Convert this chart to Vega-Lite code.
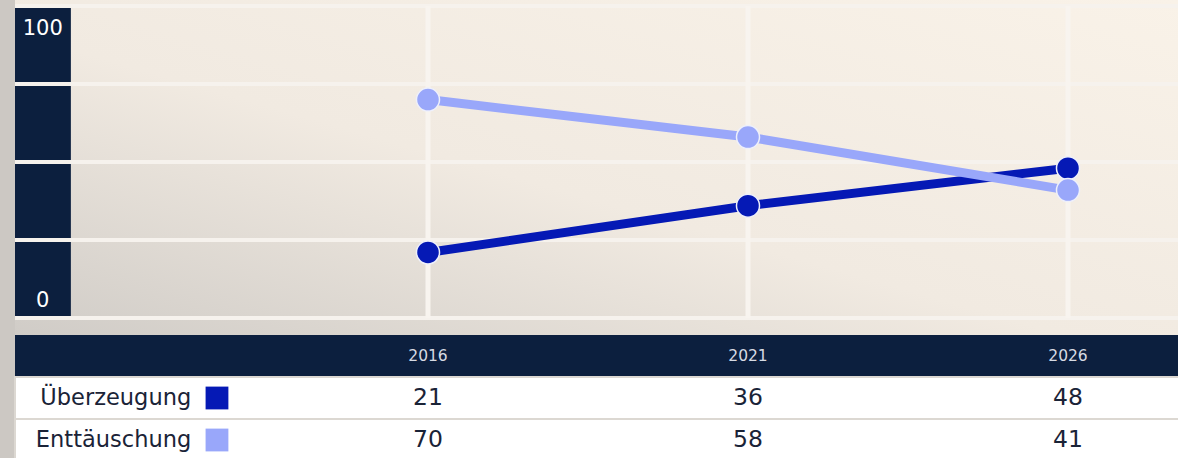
{
  "$schema": "https://vega.github.io/schema/vega-lite/v6.json",
  "background": "#ccc8c3",
  "padding": {"left": 13, "top": 0, "right": 0, "bottom": 0},
  "bounds": "flush",
  "spacing": 0,
  "config": {"view": {"stroke": null}, "font": "DejaVu Sans"},
  "datasets": {
    "series": [
      {"year": 2016, "group": "Überzeugung", "value": 21},
      {"year": 2021, "group": "Überzeugung", "value": 36},
      {"year": 2026, "group": "Überzeugung", "value": 48},
      {"year": 2016, "group": "Enttäuschung", "value": 70},
      {"year": 2021, "group": "Enttäuschung", "value": 58},
      {"year": 2026, "group": "Enttäuschung", "value": 41}
    ],
    "years": [{"year": 2016}, {"year": 2021}, {"year": 2026}],
    "gridy": [{"g": 0}, {"g": 25}, {"g": 50}, {"g": 75}, {"g": 100}],
    "rows": [{"row": "Überzeugung"}, {"row": "Enttäuschung"}],
    "header": [{"row": "header"}]
  },
  "vconcat": [
    {
      "width": 1165,
      "height": 335,
      "view": {
        "fill": {
          "gradient": "linear", "x1": 0, "y1": 1, "x2": 1, "y2": 0,
          "stops": [
            {"offset": 0, "color": "#d0ccc7"},
            {"offset": 0.45, "color": "#f1eae1"},
            {"offset": 1, "color": "#f9f2e8"}
          ]
        }
      },
      "layer": [
        {
          "data": {"name": "header"},
          "mark": {"type": "rect", "color": "#0c1f3e"},
          "encoding": {
            "x": {"datum": 2009.547, "type": "quantitative", "scale": {"domain": [2009.547, 2027.75], "nice": false, "zero": false}, "axis": null},
            "x2": {"datum": 2010.42},
            "y": {"datum": 0, "type": "quantitative", "scale": {"domain": [-5.45, 101.92], "nice": false, "zero": false}, "axis": null},
            "y2": {"datum": 100}
          }
        },
        {
          "data": {"name": "gridy"},
          "mark": {"type": "rule", "color": "#f6f2ed", "strokeWidth": 4},
          "encoding": {
            "y": {"field": "g", "type": "quantitative", "scale": {"domain": [-5.45, 101.92], "nice": false, "zero": false}, "axis": null}
          }
        },
        {
          "data": {"name": "years"},
          "mark": {"type": "rule", "color": "#f8f4ef", "strokeWidth": 5},
          "encoding": {
            "x": {"field": "year", "type": "quantitative", "scale": {"domain": [2009.547, 2027.75], "nice": false, "zero": false}, "axis": null},
            "y": {"datum": 0, "type": "quantitative", "scale": {"domain": [-5.45, 101.92], "nice": false, "zero": false}, "axis": null},
            "y2": {"datum": 100}
          }
        },
        {
          "data": {"name": "series"},
          "transform": [{"filter": "datum.group === 'Überzeugung'"}],
          "mark": {"type": "line", "strokeWidth": 9, "color": "#0519b5"},
          "encoding": {
            "x": {"field": "year", "type": "quantitative", "scale": {"domain": [2009.547, 2027.75], "nice": false, "zero": false}, "axis": null},
            "y": {"field": "value", "type": "quantitative", "scale": {"domain": [-5.45, 101.92], "nice": false, "zero": false}, "axis": null}
          }
        },
        {
          "data": {"name": "series"},
          "transform": [{"filter": "datum.group === 'Enttäuschung'"}],
          "mark": {"type": "line", "strokeWidth": 9, "color": "#99a7fa"},
          "encoding": {
            "x": {"field": "year", "type": "quantitative", "scale": {"domain": [2009.547, 2027.75], "nice": false, "zero": false}, "axis": null},
            "y": {"field": "value", "type": "quantitative", "scale": {"domain": [-5.45, 101.92], "nice": false, "zero": false}, "axis": null}
          }
        },
        {
          "data": {"name": "series"},
          "mark": {"type": "circle", "size": 530, "opacity": 1, "stroke": "#eef0fb", "strokeWidth": 1.5},
          "encoding": {
            "x": {"field": "year", "type": "quantitative", "scale": {"domain": [2009.547, 2027.75], "nice": false, "zero": false}, "axis": null},
            "y": {"field": "value", "type": "quantitative", "scale": {"domain": [-5.45, 101.92], "nice": false, "zero": false}, "axis": null},
            "color": {"field": "group", "type": "nominal", "scale": {"domain": ["Überzeugung", "Enttäuschung"], "range": ["#0519b5", "#99a7fa"]}, "legend": null},
            "order": {"field": "group", "type": "nominal", "sort": "descending"}
          }
        },
        {
          "data": {"values": [{"t": "100", "v": 100}]},
          "mark": {"type": "text", "color": "#ffffff", "fontSize": 21, "baseline": "top", "dy": 12, "align": "center"},
          "encoding": {
            "x": {"datum": 2009.98, "type": "quantitative", "scale": {"domain": [2009.547, 2027.75], "nice": false, "zero": false}, "axis": null},
            "y": {"field": "v", "type": "quantitative", "scale": {"domain": [-5.45, 101.92], "nice": false, "zero": false}, "axis": null},
            "text": {"field": "t"}
          }
        },
        {
          "data": {"values": [{"t": "0", "v": 0}]},
          "mark": {"type": "text", "color": "#ffffff", "fontSize": 21, "baseline": "alphabetic", "dy": -11, "align": "center"},
          "encoding": {
            "x": {"datum": 2009.98, "type": "quantitative", "scale": {"domain": [2009.547, 2027.75], "nice": false, "zero": false}, "axis": null},
            "y": {"field": "v", "type": "quantitative", "scale": {"domain": [-5.45, 101.92], "nice": false, "zero": false}, "axis": null},
            "text": {"field": "t"}
          }
        }
      ]
    },
    {
      "width": 1165,
      "height": 126,
      "layer": [
        {
          "data": {"name": "header"},
          "mark": {"type": "bar", "color": "#0c1f3e"},
          "encoding": {
            "x": {"datum": 2009.547, "type": "quantitative", "scale": {"domain": [2009.547, 2027.75], "nice": false, "zero": false}, "axis": null},
            "x2": {"datum": 2027.75},
            "y": {"field": "row", "type": "nominal", "scale": {"domain": ["header", "Überzeugung", "Enttäuschung"], "paddingInner": 0, "paddingOuter": 0}, "axis": null}
          }
        },
        {
          "data": {"name": "rows"},
          "mark": {"type": "bar", "color": "#ffffff", "stroke": "#dcd8d2", "strokeWidth": 2},
          "encoding": {
            "x": {"datum": 2009.547, "type": "quantitative", "scale": {"domain": [2009.547, 2027.75], "nice": false, "zero": false}, "axis": null},
            "x2": {"datum": 2027.75},
            "y": {"field": "row", "type": "nominal", "scale": {"domain": ["header", "Überzeugung", "Enttäuschung"], "paddingInner": 0, "paddingOuter": 0}, "axis": null}
          }
        },
        {
          "data": {"name": "years"},
          "mark": {"type": "text", "color": "#d6dae3", "fontSize": 15.5},
          "encoding": {
            "x": {"field": "year", "type": "quantitative", "scale": {"domain": [2009.547, 2027.75], "nice": false, "zero": false}, "axis": null},
            "y": {"datum": "header", "type": "nominal", "scale": {"domain": ["header", "Überzeugung", "Enttäuschung"], "paddingInner": 0, "paddingOuter": 0}, "axis": null},
            "text": {"field": "year", "type": "nominal"}
          }
        },
        {
          "data": {"name": "series"},
          "mark": {"type": "text", "color": "#1a2337", "fontSize": 23.5},
          "encoding": {
            "x": {"field": "year", "type": "quantitative", "scale": {"domain": [2009.547, 2027.75], "nice": false, "zero": false}, "axis": null},
            "y": {"field": "group", "type": "nominal", "scale": {"domain": ["header", "Überzeugung", "Enttäuschung"], "paddingInner": 0, "paddingOuter": 0}, "axis": null},
            "text": {"field": "value", "type": "quantitative"}
          }
        },
        {
          "data": {"name": "rows"},
          "mark": {"type": "text", "color": "#1a2337", "fontSize": 22.5, "align": "right"},
          "encoding": {
            "x": {"datum": 2012.30, "type": "quantitative", "scale": {"domain": [2009.547, 2027.75], "nice": false, "zero": false}, "axis": null},
            "y": {"field": "row", "type": "nominal", "scale": {"domain": ["header", "Überzeugung", "Enttäuschung"], "paddingInner": 0, "paddingOuter": 0}, "axis": null},
            "text": {"field": "row", "type": "nominal"}
          }
        },
        {
          "data": {"name": "rows"},
          "mark": {"type": "square", "size": 520, "opacity": 1},
          "encoding": {
            "x": {"datum": 2012.703, "type": "quantitative", "scale": {"domain": [2009.547, 2027.75], "nice": false, "zero": false}, "axis": null},
            "y": {"field": "row", "type": "nominal", "scale": {"domain": ["header", "Überzeugung", "Enttäuschung"], "paddingInner": 0, "paddingOuter": 0}, "axis": null},
            "color": {"field": "row", "type": "nominal", "scale": {"domain": ["Überzeugung", "Enttäuschung"], "range": ["#0519b5", "#99a7fa"]}, "legend": null}
          }
        }
      ]
    }
  ]
}
